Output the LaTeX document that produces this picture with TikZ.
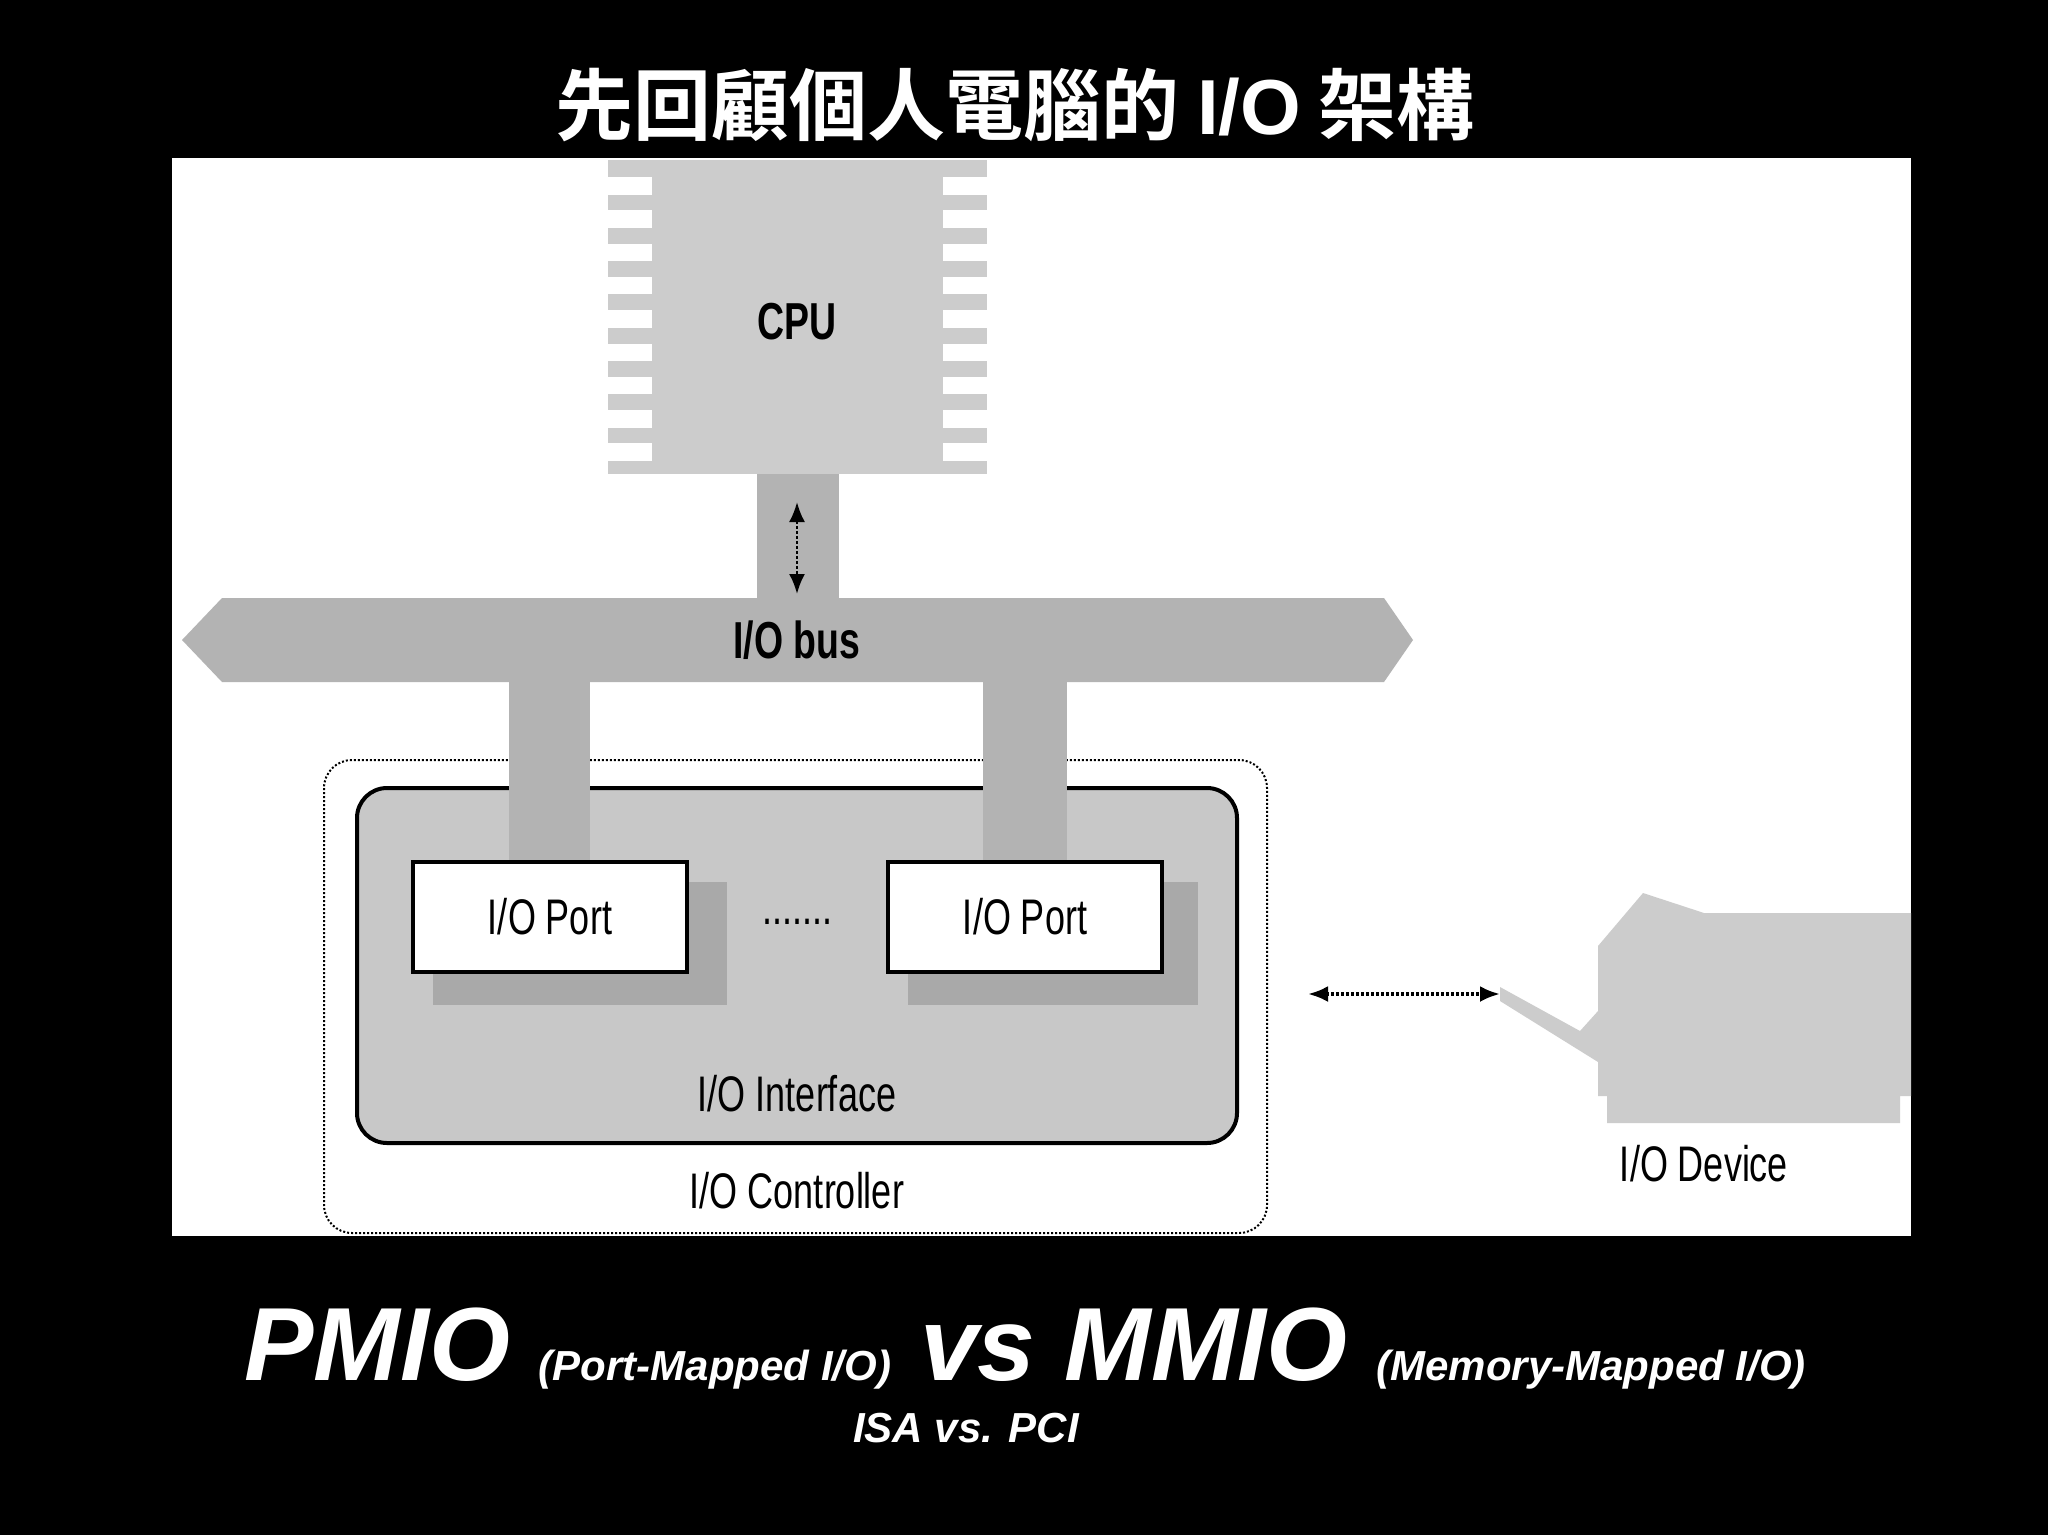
\documentclass[tikz,border=0pt]{standalone}
\usepackage{fontspec}
\setmainfont{Liberation Sans}
\newfontfamily\cond[FakeStretch=0.72]{Liberation Sans}
\newfontfamily\cjk{Noto Sans CJK TC}[BoldFont={* Bold}]
\usetikzlibrary{arrows.meta}
\definecolor{cpugray}{HTML}{CCCCCC}
\definecolor{busgray}{HTML}{B3B3B3}
\definecolor{ifgray}{HTML}{C8C8C8}
\definecolor{shgray}{HTML}{A9A9A9}
\tikzset{
  lbl/.style={font=\cond\fontsize{50}{56}\selectfont, text=black, inner sep=0pt},
  portbox/.style={draw=black, line width=4pt, fill=white, minimum width=274pt, minimum height=110pt, inner sep=0pt, font=\cond\fontsize{50}{56}\selectfont},
  dbl/.style={{Latex[length=20pt,width=16pt]}-{Latex[length=20pt,width=16pt]}, densely dashed, line width=3.5pt},
}
\begin{document}
\begin{tikzpicture}[x=1pt,y=-1pt]
\fill[black] (0,0) rectangle (2048,1535);
\useasboundingbox (0,0) rectangle (2048,1535);
\fill[white] (172,158) rectangle (1911,1236);
% CPU
\fill[cpugray] (608,160) rectangle (987,474);
\foreach \i in {0,...,8}{
  \fill[white] (606,{177+33.3*\i}) rectangle (652,{194.5+33.3*\i});
  \fill[white] (943,{177+33.3*\i}) rectangle (989,{194.5+33.3*\i});
}
\node[lbl, font=\cond\bfseries\fontsize{52}{58}\selectfont] (cpu) at (797,322) {CPU};
% CPU-bus link
\fill[busgray] (757,474) rectangle (839,600);
% bus
\fill[busgray] (182,640) -- (222,598) -- (1384,598) -- (1413,640) -- (1384,682) -- (222,682) -- cycle;
\node[lbl, font=\cond\bfseries\fontsize{52}{58}\selectfont] (bus) at (797,640) {I/O bus};
\coordinate (a1) at (797,502);
\coordinate (a2) at (797,594);
\draw[dbl, line width=2.5pt] (a1) -- (a2);
% controller
\draw[black, line width=2pt, dotted, rounded corners=28pt] (324,760) rectangle (1267,1233);
\draw[black, line width=4pt, fill=ifgray, rounded corners=30pt] (357,788) rectangle (1237,1143);
% links to ports
\fill[busgray] (509,680) rectangle (590,864);
\fill[busgray] (983,680) rectangle (1067,864);
% ports
\fill[shgray] (433,882) rectangle (727,1005);
\fill[shgray] (908,882) rectangle (1198,1005);
\node[portbox] (p1) at (550,917) {I/O Port};
\node[portbox] (p2) at (1025,917) {I/O Port};
\node[lbl] (dots) at (797,922) {.......};
\node[lbl] (ifc) at (797,1094) {I/O Interface};
\node[lbl] (ctl) at (797,1191) {I/O Controller};
% device
\fill[cpugray] (1598,946) -- (1643,893) -- (1704,913) -- (1911,913) -- (1911,1096) -- (1900,1096) -- (1900,1123) -- (1607,1123) -- (1607,1096) -- (1598,1096) -- cycle;
\fill[cpugray] (1500,987) -- (1580,1031) -- (1598,1011) -- (1598,1062) -- (1500,1001) -- cycle;
\node[lbl] (dev) at (1704,1110) {};
\node[lbl] (devl) at (1704,1164) {I/O Device};
\coordinate (h1) at (1308,994);
\coordinate (h2) at (1500,994);
\draw[dbl] (h1) -- (h2);
% titles
\node[text=white, inner sep=0pt] (title) at (1015,105) {\cjk\bfseries\fontsize{78}{86}\selectfont 先回顧個人電腦的 {\rmfamily I/O} 架構};
\node[text=white, inner sep=0pt, anchor=base] (sub) at (1025,1380) {\bfseries\itshape\fontsize{104}{110}\selectfont PMIO {\fontsize{42}{48}\selectfont (Port-Mapped I/O)} vs MMIO {\fontsize{42}{48}\selectfont (Memory-Mapped I/O)}};
\node[text=white, inner sep=0pt] (isa) at (966,1428) {\bfseries\itshape\fontsize{42}{48}\selectfont ISA vs. PCI};
\end{tikzpicture}
\end{document}
